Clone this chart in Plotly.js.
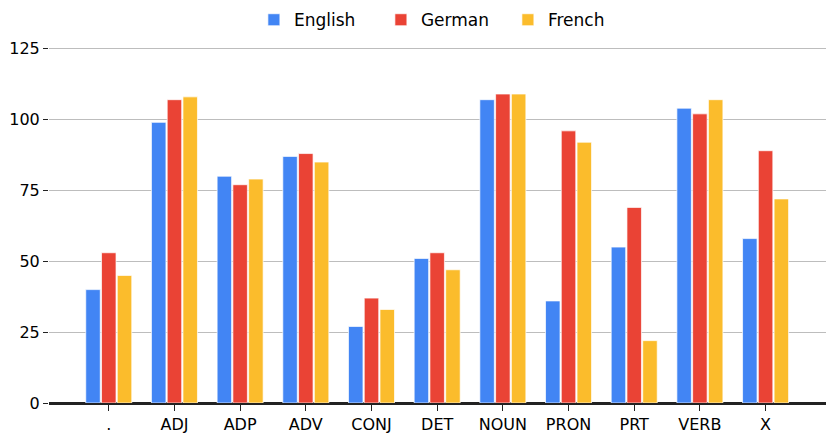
<!DOCTYPE html>
<html>
<head>
<meta charset="utf-8">
<script src="https://cdn.plot.ly/plotly-3.0.1.min.js"></script>
<style>html,body{margin:0;padding:0;background:#fff;}#chart{width:830px;height:437px;}</style>
</head>
<body>
<div id="chart"></div>
<script>
var categories = [".", "ADJ", "ADP", "ADV", "CONJ", "DET", "NOUN", "PRON", "PRT", "VERB", "X"];
var english = [40, 99, 80, 87, 27, 51, 107, 36, 55, 104, 58];
var german  = [53, 107, 77, 88, 37, 53, 109, 96, 69, 102, 89];
var french  = [45, 108, 79, 85, 33, 47, 109, 92, 22, 107, 72];
var seriesNames = ["English", "German", "French"];
var colors = ["#4285F4", "#EA4335", "#FBBC2C"];

var series = [english, german, french];
var traces = series.map(function (vals, i) {
  return {
    type: "bar",
    name: seriesNames[i],
    x: categories,
    y: vals,
    marker: { color: colors[i], line: { color: "rgba(255,255,255,0.7)", width: 1 } },
    hoverinfo: "x+y+name"
  };
});

var tickFont = { family: "DejaVu Sans, sans-serif", size: 16, color: "#000" };
var legendFont = { family: "DejaVu Sans, sans-serif", size: 17, color: "#000" };

var layout = {
  width: 830,
  height: 437,
  margin: { l: 49, r: 4, t: 43, b: 34 },
  paper_bgcolor: "#fff",
  plot_bgcolor: "#fff",
  font: tickFont,
  barmode: "group",
  bargap: 0.28,
  bargroupgap: 0.08,
  showlegend: true,
  legend: {
    orientation: "h",
    x: 0.2637,
    xanchor: "left",
    y: 0.995,
    yref: "container",
    yanchor: "top",
    font: legendFont,
    entrywidth: 82,
    traceorder: "normal"
  },
  xaxis: {
    type: "category",
    range: [-0.91, 10.92],
    showline: true,
    linecolor: "#222",
    linewidth: 2,
    ticks: "outside",
    ticklen: 6,
    tickcolor: "#222",
    tickwidth: 1,
    showgrid: false,
    tickfont: tickFont
  },
  yaxis: {
    range: [0, 127],
    tickvals: [0, 25, 50, 75, 100, 125],
    ticks: "outside",
    ticklen: 5,
    tickcolor: "#222",
    showgrid: true,
    gridcolor: "#bdbdbd",
    gridwidth: 1,
    zeroline: true,
    zerolinecolor: "#222",
    zerolinewidth: 2,
    showline: false,
    tickfont: tickFont
  }
};

Plotly.newPlot("chart", traces, layout, { displayModeBar: false, staticPlot: true });
</script>
</body>
</html>
